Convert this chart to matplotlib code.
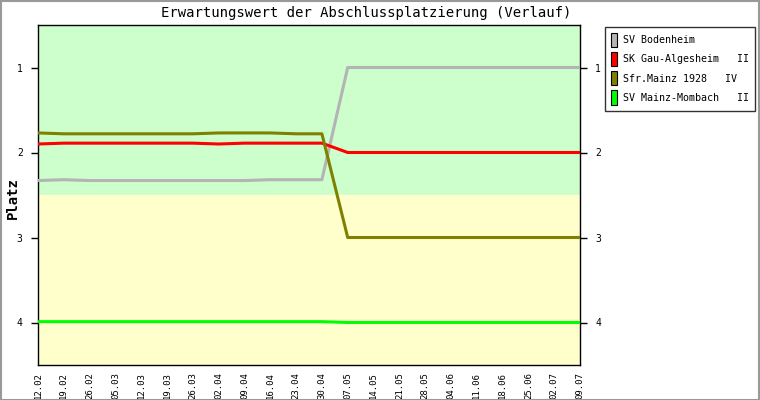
import matplotlib
matplotlib.use("Agg")
import matplotlib.pyplot as plt
from matplotlib.patches import Rectangle, Patch

dates = ["12.02","19.02","26.02","05.03","12.03","19.03","26.03","02.04","09.04","16.04","23.04",
         "30.04","07.05","14.05","21.05","28.05","04.06","11.06","18.06","25.06","02.07","09.07"]
bodenheim = [2.33,2.32,2.33,2.33,2.33,2.33,2.33,2.33,2.33,2.32,2.32,2.32] + [1.0]*10
gau_algesheim = [1.90,1.89,1.89,1.89,1.89,1.89,1.89,1.90,1.89,1.89,1.89,1.89] + [2.0]*10
sfr_mainz = [1.77,1.78,1.78,1.78,1.78,1.78,1.78,1.77,1.77,1.77,1.78,1.78] + [3.0]*10
mombach = [3.99]*12 + [4.0]*10
names = ["SV Bodenheim", "SK Gau-Algesheim   II", "Sfr.Mainz 1928   IV", "SV Mainz-Mombach   II"]
colors = ["#b4b4b4", "#ff0000", "#808000", "#00ff00"]

plt.rcParams['font.family'] = ['DejaVu Sans Mono']

fig = plt.figure(figsize=(7.6, 4.0), dpi=100)
ax = fig.add_axes([38/760, 35/400, 542/760, 340/400])
x = list(range(len(dates)))
ax.axhspan(0.5, 2.5, color="#ccffcc", zorder=0)
ax.axhspan(2.5, 4.5, color="#ffffcc", zorder=0)
for ys, c in zip([bodenheim, gau_algesheim, sfr_mainz, mombach], colors):
    ax.plot(x, ys, color=c, lw=2.2, solid_capstyle='butt', zorder=3)
ax.set_xlim(0, len(dates)-1)
ax.set_ylim(4.5, 0.5)
ax.set_yticks([1, 2, 3, 4])
ax.set_yticklabels(["1", "2", "3", "4"], fontsize=7)
ax.tick_params(axis='y', which='both', left=True, right=True, labelleft=True, labelright=True,
               direction='out', length=5, width=1, pad=6)
ax.set_xticks(x)
ax.set_xticklabels(dates, rotation=90, fontsize=6.5)
ax.tick_params(axis='x', length=0, pad=5)
for s in ax.spines.values():
    s.set_color("black")
    s.set_linewidth(1)
fig.text(13/760, 1-198/400, "Platz", rotation=90, ha='center', va='center',
         fontsize=10, fontweight='bold')
fig.text(366/760, 1-13/400, "Erwartungswert der Abschlussplatzierung (Verlauf)",
         ha='center', va='center', fontsize=10)

handles = [Patch(facecolor=c, edgecolor='black', linewidth=0.8) for c in colors]
leg = fig.legend(handles, names, loc='upper left', bbox_to_anchor=(605/760, 1-27/400),
                 fontsize=7.2, frameon=True, fancybox=False, edgecolor='black',
                 handlelength=0.6, handleheight=1.8, handletextpad=0.6, labelspacing=0.5,
                 borderpad=0.6, borderaxespad=0)
leg.get_frame().set_linewidth(1)

fig.patches.append(Rectangle((0.5/760, 0.5/400), 758.5/760, 398.5/400, transform=fig.transFigure,
                             fill=False, edgecolor="#999999", linewidth=1.5))
fig.savefig("out.png", dpi=100)
